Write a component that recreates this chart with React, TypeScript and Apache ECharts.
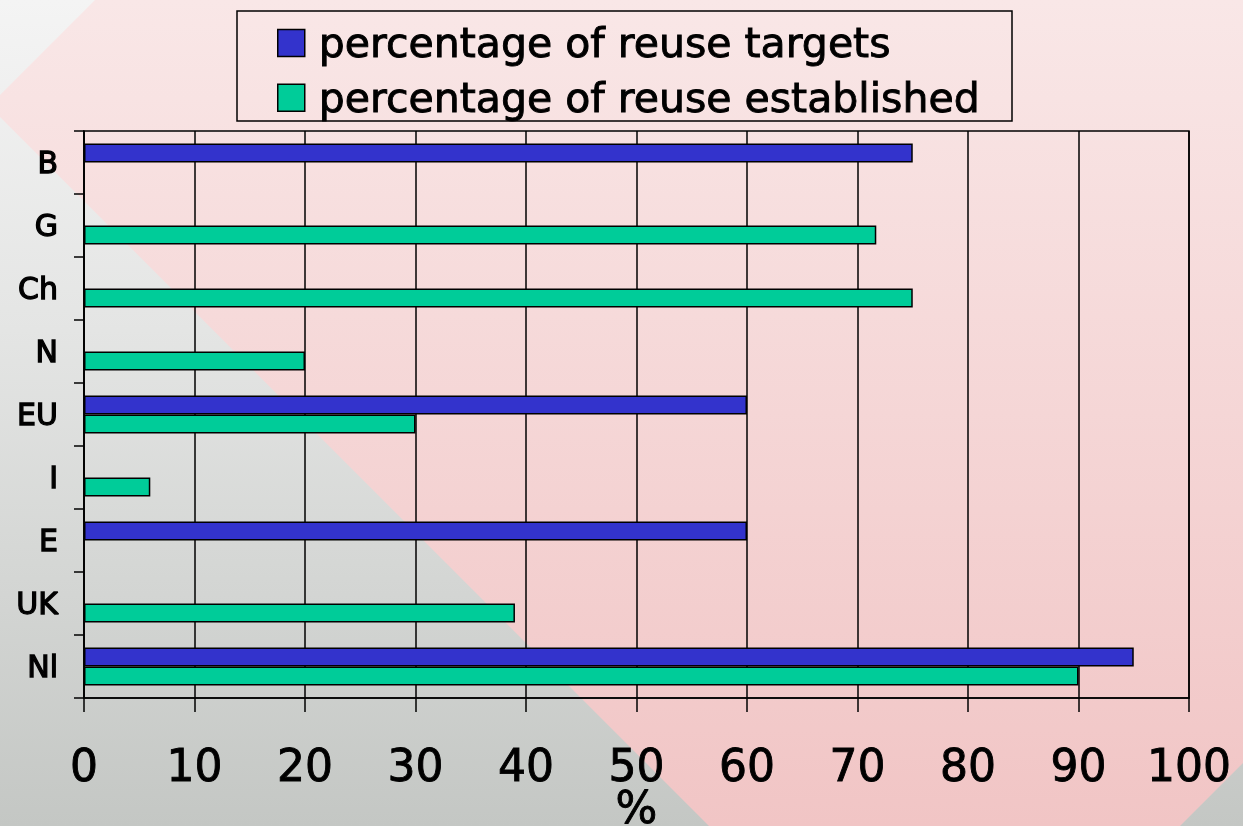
import React, { useEffect, useRef } from "react";
import * as echarts from "echarts";

const categories = ["B", "G", "Ch", "N", "EU", "I", "E", "UK", "Nl"];
const seriesNames = ["percentage of reuse targets", "percentage of reuse established"];
const targets = [75, null, null, null, 60, null, 60, null, 95];
const established = [null, 71.7, 75, 20, 30, 6, null, 39, 90];
const xTicks = { min: 0, max: 100, interval: 10 };
const xName = "%";

export default function App() {
  const ref = useRef<HTMLDivElement>(null);
  useEffect(() => {
    if (!ref.current) return;
    const chart = echarts.init(ref.current, null, { renderer: "svg" });
    const font = "DejaVu Sans";
    const heavy = { textBorderColor: "#000", textBorderWidth: 0.9 };
    chart.setOption({
      animation: false,
      graphic: [
        {
          type: "rect",
          z: -100,
          shape: { x: 0, y: 0, width: 1243, height: 826 },
          style: {
            fill: new echarts.graphic.LinearGradient(0, 0, 0, 1, [
              { offset: 0, color: "#f4f4f4" },
              { offset: 0.4, color: "#e4e5e4" },
              { offset: 1, color: "#c4c7c4" },
            ]),
          },
        },
        {
          type: "polygon",
          z: -99,
          shape: {
            points: [
              [-11, 106],
              [95, 0],
              [1243, 0],
              [1243, 763],
              [1180, 826],
              [709, 826],
            ],
          },
          style: {
            fill: new echarts.graphic.LinearGradient(0, 0, 0, 1, [
              { offset: 0, color: "#f9e7e7" },
              { offset: 1, color: "#f1c5c5" },
            ]),
          },
        },
        {
          type: "rect",
          z: 5,
          shape: { x: 237, y: 11, width: 775, height: 110 },
          style: { fill: "none", stroke: "#000", lineWidth: 1.5 },
        },
      ],
      legend: {
        orient: "vertical",
        left: 277,
        top: 22,
        padding: 0,
        itemWidth: 27,
        itemHeight: 27,
        itemGap: 13,
        icon: "rect",
        itemStyle: { borderColor: "#000", borderWidth: 1.5 },
        textStyle: {
          fontSize: 41,
          fontFamily: font,
          color: "#000",
          lineHeight: 27,
          padding: [0, 0, 0, 9],
          ...heavy,
        },
        data: seriesNames,
      },
      grid: {
        left: 84,
        right: 54,
        top: 131,
        bottom: 128,
        outerBoundsMode: "none",
        containLabel: false,
        show: true,
        borderColor: "#000",
        borderWidth: 1.5,
        backgroundColor: "transparent",
      },
      xAxis: {
        type: "value",
        min: xTicks.min,
        max: xTicks.max,
        interval: xTicks.interval,
        name: xName,
        nameLocation: "middle",
        nameGap: 91,
        nameMoveOverlap: false,
        nameTextStyle: { fontSize: 44, fontFamily: font, color: "#000", lineHeight: 36, ...heavy },
        axisLine: { show: true, lineStyle: { color: "#000", width: 1.5 } },
        axisTick: { show: true, length: 14, lineStyle: { color: "#000", width: 1.5 } },
        axisLabel: { fontSize: 44, fontFamily: font, color: "#000", margin: 49, lineHeight: 36, ...heavy },
        splitLine: { show: true, lineStyle: { color: "#000", width: 1.5 } },
      },
      yAxis: {
        type: "category",
        data: categories,
        inverse: true,
        axisLine: { show: true, lineStyle: { color: "#000", width: 1.5 } },
        axisTick: { show: true, length: 10, lineStyle: { color: "#000", width: 1.5 } },
        axisLabel: { fontSize: 30, fontFamily: font, color: "#000", margin: 26, textBorderColor: "#000", textBorderWidth: 1.3 },
        splitLine: { show: false },
      },
      series: [
        {
          name: seriesNames[0],
          type: "bar",
          data: targets,
          barWidth: 19,
          barGap: "0%",
          itemStyle: { color: "#3333cc", borderColor: "#000", borderWidth: 1.5 },
        },
        {
          name: seriesNames[1],
          type: "bar",
          data: established,
          barWidth: 19,
          barGap: "0%",
          itemStyle: { color: "#00cc99", borderColor: "#000", borderWidth: 1.5 },
        },
      ],
    });
    return () => chart.dispose();
  }, []);
  return (
    <div
      ref={ref}
      style={{ position: "fixed", left: 0, top: 0, width: 1243, height: 826 }}
    />
  );
}
